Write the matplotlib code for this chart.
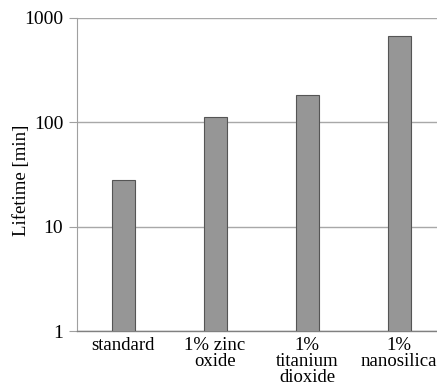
import numpy as np
import matplotlib
matplotlib.use("Agg")
import matplotlib.pyplot as plt

categories = ["standard", "1% zinc\noxide", "1%\ntitanium\ndioxide", "1%\nnanosilica"]
lifetime = [28, 112, 182, 673]
yticks = [1, 10, 100, 1000]
ytick_labels = ["1", "10", "100", "1000"]

plt.rcParams['font.family'] = ['Liberation Serif', 'DejaVu Serif']

fig = plt.figure(figsize=(4.37, 3.85), dpi=100)
# axes runs past the right edge of the picture, as in the original crop
W, H = 437, 385
left, right, top, bottom = 77, 445, 18, 331
ax = fig.add_axes([left / W, 1 - bottom / H, (right - left) / W, (bottom - top) / H])

x = np.arange(len(categories))
ax.bar(x, lifetime, width=0.25, color='#969696', edgecolor='#555555', linewidth=0.8, zorder=3)

ax.set_yscale('log')
ax.set_ylim(1, 1000)
ax.set_xlim(-0.5, len(categories) - 0.5)
ax.set_yticks(yticks)
ax.set_yticklabels(ytick_labels, fontsize=14)
ax.yaxis.set_minor_locator(matplotlib.ticker.NullLocator())
ax.set_xticks(x)
ax.set_xticklabels(categories, fontsize=13.5, linespacing=0.95, va='top')
ax.tick_params(axis='x', length=0, pad=4)
ax.tick_params(axis='y', length=6, width=0.8, color='#a0a0a0', pad=4)

ax.grid(axis='y', color='#a8a8a8', linewidth=1.0, zorder=0)
for s in ['top', 'right']:
    ax.spines[s].set_visible(False)
ax.spines['left'].set_color('#a0a0a0')
ax.spines['bottom'].set_color('#808080')
ax.spines['bottom'].set_linewidth(1.0)

ax.set_ylabel('Lifetime [min]', fontsize=13.5, va='center')
ax.yaxis.set_label_coords(-0.15, 0.48)

fig.savefig('out.png', dpi=100)
